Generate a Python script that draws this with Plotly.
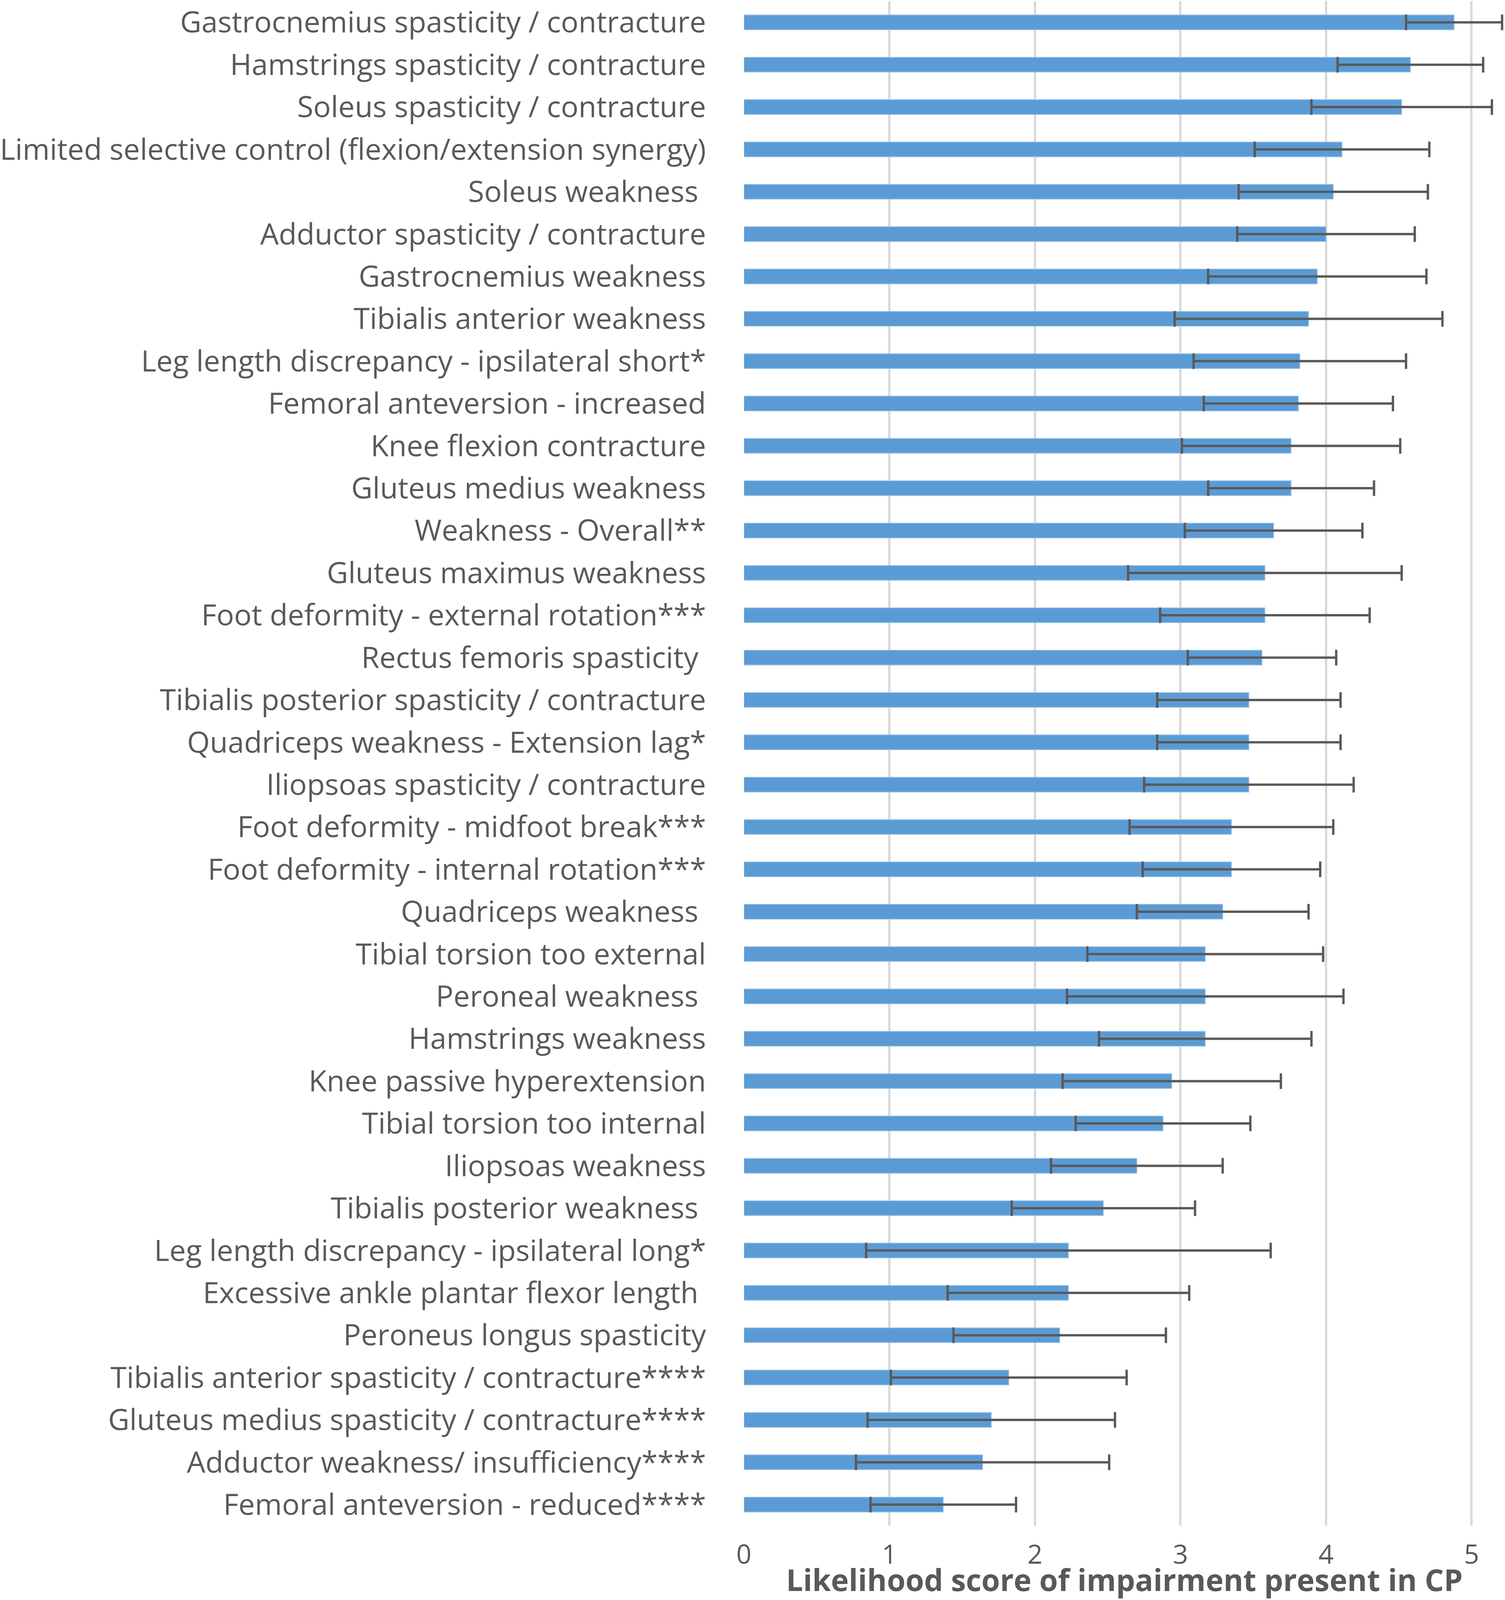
import plotly.graph_objects as go

# impairment labels, top to bottom as in the chart
impairments = [
    "Gastrocnemius spasticity / contracture",
    "Hamstrings spasticity / contracture",
    "Soleus spasticity / contracture",
    "Limited selective control (flexion/extension synergy)",
    "Soleus weakness\u00a0",
    "Adductor spasticity / contracture",
    "Gastrocnemius weakness",
    "Tibialis anterior weakness",
    "Leg length discrepancy - ipsilateral short*",
    "Femoral anteversion - increased",
    "Knee flexion contracture",
    "Gluteus medius weakness",
    "Weakness - Overall**",
    "Gluteus maximus weakness",
    "Foot deformity - external rotation***",
    "Rectus femoris spasticity\u00a0",
    "Tibialis posterior spasticity / contracture",
    "Quadriceps weakness - Extension lag*",
    "Iliopsoas spasticity / contracture",
    "Foot deformity - midfoot break***",
    "Foot deformity - internal rotation***",
    "Quadriceps weakness\u00a0",
    "Tibial torsion too external",
    "Peroneal weakness\u00a0",
    "Hamstrings weakness",
    "Knee passive hyperextension",
    "Tibial torsion too internal",
    "Iliopsoas weakness",
    "Tibialis posterior weakness\u00a0",
    "Leg length discrepancy - ipsilateral long*",
    "Excessive ankle plantar flexor length\u00a0",
    "Peroneus longus spasticity",
    "Tibialis anterior spasticity / contracture****",
    "Gluteus medius spasticity / contracture****",
    "Adductor weakness/ insufficiency****",
    "Femoral anteversion - reduced****",
]

# mean likelihood score
mean_score = [
    4.88, 4.58, 4.52, 4.11, 4.05, 4.00, 3.94, 3.88, 3.82, 3.81,
    3.76, 3.76, 3.64, 3.58, 3.58, 3.56, 3.47, 3.47, 3.47, 3.35,
    3.35, 3.29, 3.17, 3.17, 3.17, 2.94, 2.88, 2.70, 2.47, 2.23,
    2.23, 2.17, 1.82, 1.70, 1.64, 1.37,
]

# standard deviation (error bar half-length)
sd_score = [
    0.33, 0.50, 0.62, 0.60, 0.65, 0.61, 0.75, 0.92, 0.73, 0.65,
    0.75, 0.57, 0.61, 0.94, 0.72, 0.51, 0.63, 0.63, 0.72, 0.70,
    0.61, 0.59, 0.81, 0.95, 0.73, 0.75, 0.60, 0.59, 0.63, 1.39,
    0.83, 0.73, 0.81, 0.85, 0.87, 0.50,
]

x_ticks = [0, 1, 2, 3, 4, 5]

TEXT = "#595959"

fig = go.Figure(
    go.Bar(
        x=mean_score,
        y=impairments,
        orientation="h",
        width=0.35,
        marker=dict(color="#5B9BD5", line=dict(color="#9DC3E6", width=2)),
        error_x=dict(
            type="data",
            array=sd_score,
            color=TEXT,
            thickness=6,
            width=20,
        ),
    )
)

fig.update_layout(
    width=3852,
    height=4919,
    margin=dict(l=1892, r=0, t=4, b=228),
    plot_bgcolor="white",
    paper_bgcolor="white",
    font=dict(family="Open Sans", color=TEXT),
    showlegend=False,
)

fig.update_xaxes(
    range=[0, 5.23],
    tickvals=x_ticks,
    ticktext=[str(t) for t in x_ticks],
    tickfont=dict(size=68, color=TEXT),
    showgrid=True,
    gridcolor="#D9D9D9",
    gridwidth=6,
    zeroline=False,
    showline=False,
    ticks="",
    ticklabelstandoff=28,
    title=dict(
        text="<b>Likelihood score of impairment present in CP</b>",
        font=dict(size=77, color=TEXT),
        standoff=10,
    ),
)

fig.update_yaxes(
    autorange="reversed",
    tickfont=dict(size=75, color=TEXT),
    showgrid=False,
    showline=False,
    zeroline=False,
    ticks="",
    ticklabelstandoff=96,
)

# the visible window can be shorter than 4919 px: fit the figure to it,
# keeping the vertical proportions of the layout
fit_js = """
document.body.style.margin = '0';
var gd = document.getElementById('{plot_id}');
var W = window.innerWidth, H = window.innerHeight;
var k = H / 4919;
Plotly.relayout(gd, {width: W, height: H, 'margin.t': 4 * k, 'margin.b': 228 * k});
"""

fig.write_html(
    "out.html",
    post_script=fit_js,
    config={"displayModeBar": False},
)
